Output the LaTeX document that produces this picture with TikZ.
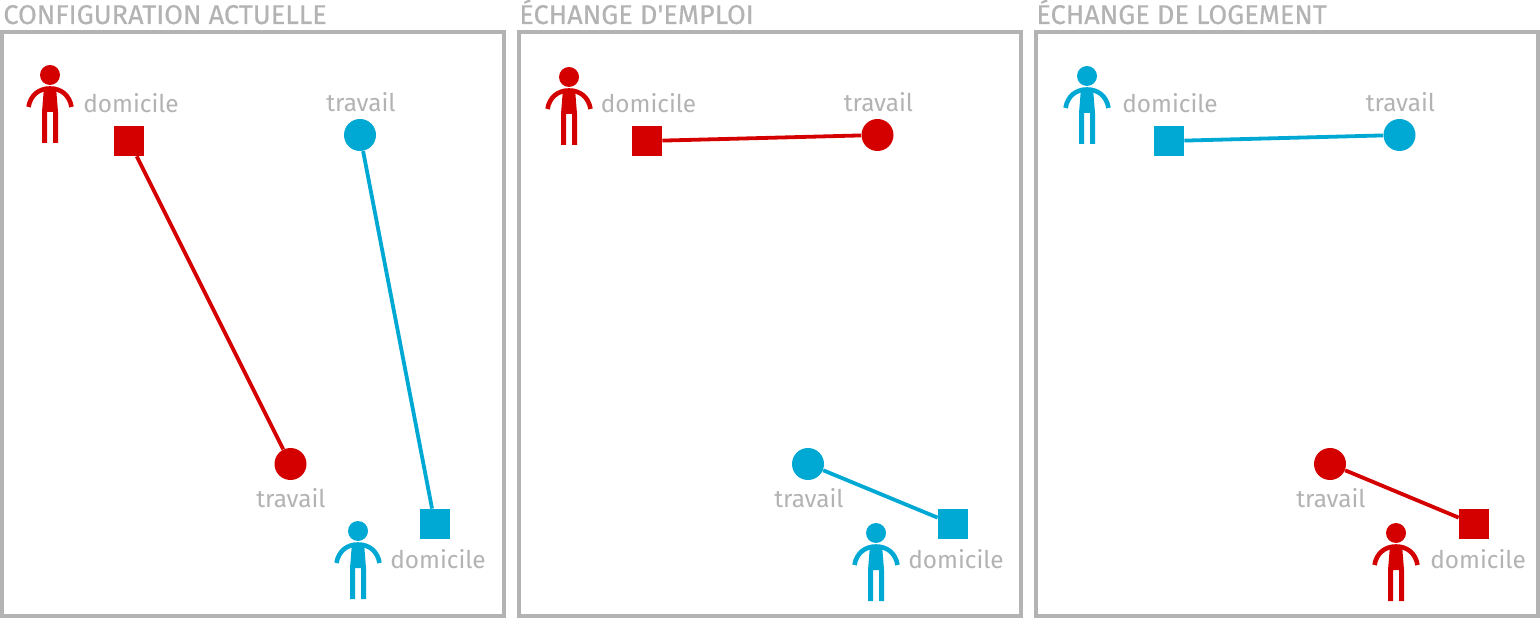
\documentclass[tikz,border=0pt]{standalone}
\usepackage{fontspec}
\setmainfont{Fira Sans}
\definecolor{redperson}{HTML}{D40000}
\definecolor{blueperson}{HTML}{00A8D4}
\definecolor{greytext}{HTML}{B3B3B3}
\tikzset{
    frame/.style={draw=greytext, line width=1.8pt},
    title/.style={anchor=base west, inner sep=0pt, text=greytext, font=\fontsize{13.55}{16}\selectfont\addfontfeature{FakeBold=0.4}},
    place/.style={anchor=base, inner sep=0pt, text=greytext, font=\fontsize{12.2}{14}\selectfont},
    home/.style={rectangle, fill=#1, minimum size=15pt, inner sep=0pt},
    work/.style={circle, fill=#1, minimum size=16pt, inner sep=0pt},
    trip/.style={draw=#1, line width=1.9pt},
    person/.pic={
        \fill (0, 0) circle (5pt); % head
        \draw [line width=2.3pt] (-21.5, 32) .. controls (-19.5, 20) and (-11, 13.5) .. (0, 13.5) .. controls (11, 13.5) and (19.5, 20) .. (21.5, 32); % arms
        \fill (-6, 12) -- (6, 12) -- (8, 37) -- (8, 68) -- (3, 68) -- (3, 37) -- (-3, 37) -- (-3, 68) -- (-8, 68) -- (-8, 37) -- cycle; % body
    }
}

\begin{document}
\begin{tikzpicture}[x=0.5pt, y=-0.5pt]
    \useasboundingbox (0, 0) rectangle (1540, 619);
    % current configuration
    \node [title] (title1) at (3, 24) {CONFIGURATION ACTUELLE};
    \draw [frame] (2, 32) rectangle (504, 616);
    \pic [redperson] at (50, 75) {person};
    \pic [blueperson] at (358, 531) {person};
    \node [home=redperson] (home1) at (129, 141) {};
    \node [work=redperson] (work1) at (290.5, 464) {};
    \node [home=blueperson] (home2) at (435, 524) {};
    \node [work=blueperson] (work2) at (360, 135) {};
    \draw [trip=redperson] (home1) to (work1);
    \draw [trip=blueperson] (home2) to (work2);
    \node [place] (label1) at (131, 113) {domicile};
    \node [place] (label2) at (291, 507) {travail};
    \node [place] (label3) at (438, 568) {domicile};
    \node [place] (label4) at (361, 112) {travail};
    % job swap
    \node [title] (title2) at (519, 24) {ÉCHANGE D\textquotesingle EMPLOI};
    \draw [frame] (519, 32) rectangle (1021, 616);
    \pic [redperson] at (569, 77) {person};
    \pic [blueperson] at (876, 533) {person};
    \node [home=redperson] (home3) at (647, 141) {};
    \node [work=redperson] (work3) at (877.5, 135) {};
    \node [home=blueperson] (home4) at (953, 524) {};
    \node [work=blueperson] (work4) at (808, 464) {};
    \draw [trip=redperson] (home3) to (work3);
    \draw [trip=blueperson] (home4) to (work4);
    \node [place] (label5) at (648.5, 113) {domicile};
    \node [place] (label6) at (878.5, 112) {travail};
    \node [place] (label7) at (809, 507) {travail};
    \node [place] (label8) at (956, 568) {domicile};
    % home swap
    \node [title] (title3) at (1036, 24) {ÉCHANGE DE LOGEMENT};
    \draw [frame] (1036, 32) rectangle (1538, 616);
    \pic [blueperson] at (1087, 76) {person};
    \pic [redperson] at (1396, 533) {person};
    \node [home=blueperson] (home5) at (1169, 141) {};
    \node [work=blueperson] (work5) at (1399.5, 135) {};
    \node [home=redperson] (home6) at (1474, 524) {};
    \node [work=redperson] (work6) at (1330, 464) {};
    \draw [trip=blueperson] (home5) to (work5);
    \draw [trip=redperson] (home6) to (work6);
    \node [place] (label9) at (1170, 113) {domicile};
    \node [place] (label10) at (1400.5, 112) {travail};
    \node [place] (label11) at (1331, 507) {travail};
    \node [place] (label12) at (1478, 568) {domicile};
\end{tikzpicture}
\end{document}
